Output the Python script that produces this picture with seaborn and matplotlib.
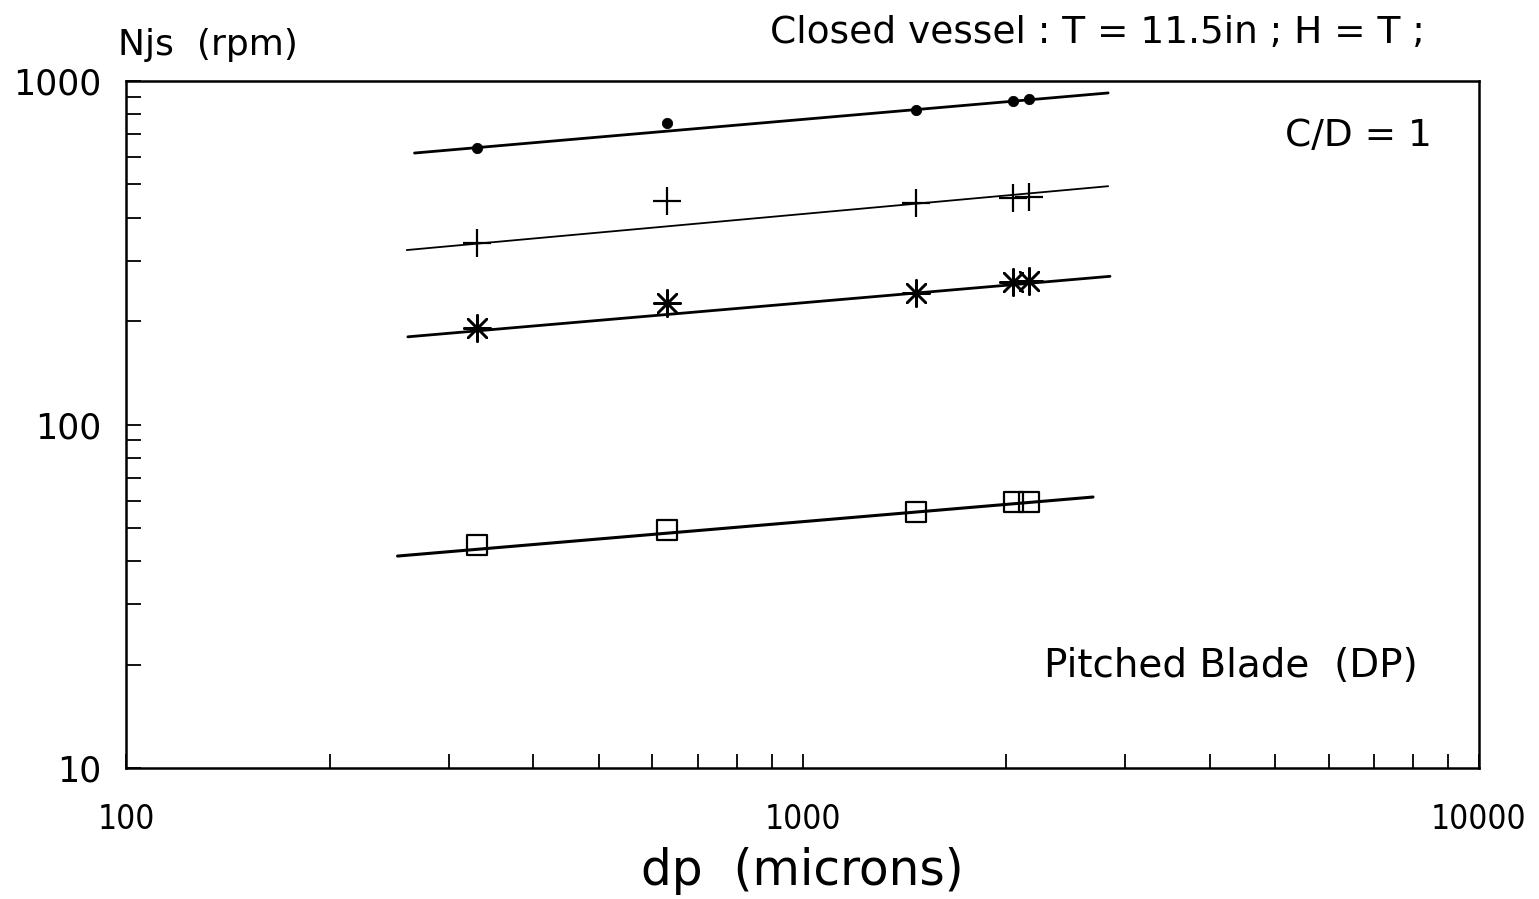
import matplotlib
matplotlib.use("Agg")
import matplotlib.pyplot as plt
import matplotlib.ticker as mticker
import pandas as pd
import seaborn as sns

# particle size (microns) and just-suspended speed Njs (rpm)
dp = [330, 630, 1470, 2050, 2160]
njs_dot = [638, 755, 823, 875, 886]
njs_plus = [338, 447, 441, 456, 459]
njs_star = [191, 226, 241, 260, 262]
njs_square = [44.6, 49.3, 55.6, 59.5, 59.5]

# fitted lines (end points)
fit_dot_x, fit_dot_y = [267, 2830], [617, 923]
fit_plus_x, fit_plus_y = [260, 2830], [322, 494]
fit_star_x, fit_star_y = [261, 2848], [180, 270]
fit_square_x, fit_square_y = [252, 2688], [41.4, 61.5]

x_ticks = [100, 1000, 10000]
y_ticks = [10, 100, 1000]

sns.set_style("white")
plt.rcParams["font.family"] = ["DejaVu Sans"]
plt.rcParams["text.color"] = "black"
plt.rcParams["axes.labelcolor"] = "black"
plt.rcParams["xtick.color"] = "black"
plt.rcParams["ytick.color"] = "black"

fig = plt.figure(figsize=(15.39, 8.99), dpi=100)
ax = fig.add_axes([126 / 1539, 1 - 768 / 899, (1479 - 126) / 1539, (768 - 81) / 899])

df = pd.DataFrame({"dp": dp, "dot": njs_dot, "plus": njs_plus,
                   "star": njs_star, "square": njs_square})

# fit lines
for fx, fy, lw in [(fit_dot_x, fit_dot_y, 2.0), (fit_plus_x, fit_plus_y, 1.3),
                   (fit_star_x, fit_star_y, 2.0), (fit_square_x, fit_square_y, 2.2)]:
    sns.lineplot(x=fx, y=fy, ax=ax, color="black", linewidth=lw)

# data points
sns.scatterplot(data=df, x="dp", y="dot", ax=ax, marker="o", s=55,
                color="black", edgecolor="black")
sns.scatterplot(data=df, x="dp", y="plus", ax=ax, marker="+", s=380,
                color="black", linewidth=1.6)
sns.scatterplot(data=df, x="dp", y="star", ax=ax, marker=(8, 2, 0), s=360,
                color="black", linewidth=1.8)
sns.scatterplot(data=df, x="dp", y="square", ax=ax, marker="s", s=200,
                facecolor="none", edgecolor="black", linewidth=1.6)

ax.set_xscale("log")
ax.set_yscale("log")
ax.set_xlim(100, 10000)
ax.set_ylim(10, 1000)

ax.xaxis.set_major_locator(mticker.FixedLocator(x_ticks))
ax.yaxis.set_major_locator(mticker.FixedLocator(y_ticks))
ax.xaxis.set_minor_locator(mticker.LogLocator(base=10, subs=range(2, 10)))
ax.yaxis.set_minor_locator(mticker.LogLocator(base=10, subs=range(2, 10)))
ax.xaxis.set_minor_formatter(mticker.NullFormatter())
ax.yaxis.set_minor_formatter(mticker.NullFormatter())
ax.set_xticklabels([str(v) for v in x_ticks], fontstretch="condensed")
ax.set_yticklabels([str(v) for v in y_ticks])

ax.tick_params(axis="both", which="both", direction="in", color="black",
               bottom=True, left=True, top=False, right=False)
ax.tick_params(axis="x", which="both", length=10, width=1.3, pad=25, labelsize=24)
ax.tick_params(axis="y", which="both", length=11, width=1.3, pad=18, labelsize=25)

for sp in ax.spines.values():
    sp.set_visible(True)
    sp.set_color("black")
    sp.set_linewidth(1.8)

ax.set_xlabel("dp  (microns)", fontsize=35, labelpad=8)
ax.set_ylabel("")

fig.text(118 / 1539, 1 - 45 / 899, "Njs  (rpm)", fontsize=26, va="center", ha="left")
fig.text(1425 / 1539, 1 - 33 / 899, "Closed vessel : T = 11.5in ; H = T ;",
         fontsize=27, va="center", ha="right")
ax.text(0.965, 0.92, "C/D = 1", transform=ax.transAxes,
        fontsize=27, va="center", ha="right")
ax.text(0.955, 0.148, "Pitched Blade  (DP)", transform=ax.transAxes,
        fontsize=28, va="center", ha="right")

fig.savefig("out.png", dpi=100)
